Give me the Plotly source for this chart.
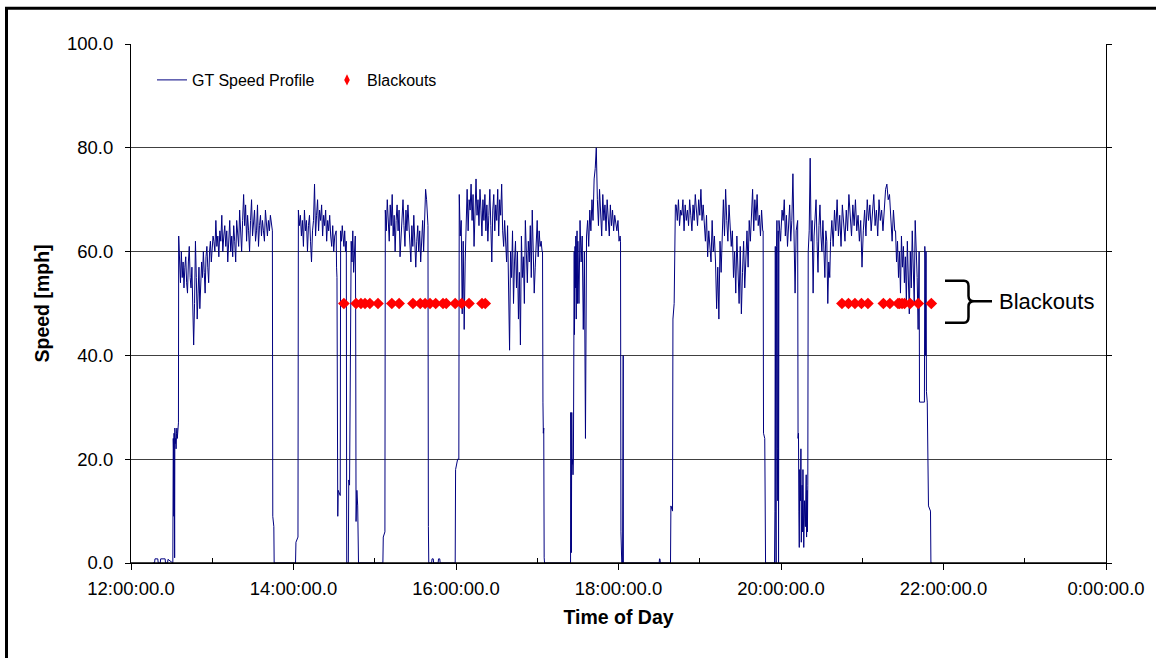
import numpy as np
import plotly.graph_objects as go

# ---------------- data (hours of day, mph) ----------------
p0_t = [12.27, 12.29, 12.295, 12.33, 12.335, 12.36, 12.365, 12.42, 12.425, 12.45, 12.455, 12.515]
p0_v = [0, 0, 0.8, 0.8, 0, 0, 0.8, 0.8, 0, 0, 0.7, 0]
p1_t = [12.52, 12.523, 12.527, 12.53, 12.533, 12.537, 12.54, 12.545, 12.55, 12.555, 12.56, 12.565, 12.57, 12.575, 12.58, 12.584]
p1_v = [24, 22, 9, 25, 21, 1, 26, 23, 24, 22, 25, 26, 24, 25, 26, 27]
seg_b = (12.587, 13.01, [63, 56, 54, 60, 55, 58, 53, 57, 59, 54, 52, 58, 61, 55, 53, 57, 48, 42, 50, 62,
                         55, 47, 52, 57, 49, 53, 58, 55, 60, 56, 52, 59, 61, 57, 54, 60, 62, 58, 60, 63])
seg_c = (13.02, 13.74, [62, 60, 66, 61, 63, 59, 64, 62, 67, 60, 63, 65, 61, 64, 58, 62, 66, 60, 63, 59,
                        65, 62, 58, 66, 63, 61, 68, 64, 60, 66, 71, 65, 69, 62, 67, 64, 60, 66, 70, 63,
                        65, 68, 62, 64, 69, 61, 65, 67, 63, 66, 64, 62, 68, 65, 63, 66, 64, 67, 65, 64])
p2_t = [13.745, 13.752, 13.758, 13.762, 14.025, 14.03, 14.055]
p2_v = [9, 8, 7, 0, 0, 4, 5]
seg_d = (14.06, 14.52, [68, 65, 67, 63, 66, 61, 68, 64, 66, 60, 65, 67, 62, 58, 64, 66, 73, 63, 67, 70,
                        64, 68, 66, 69, 63, 67, 65, 68, 62, 66, 64, 67, 63, 61, 65, 60, 63, 64])
p3_t = [14.525, 14.53, 14.535, 14.545, 14.55, 14.575, 14.58, 14.59, 14.60, 14.61, 14.62, 14.63, 14.64,
        14.65, 14.655, 14.675, 14.68, 14.69, 14.70, 14.71, 14.72, 14.73, 14.74, 14.75, 14.76, 14.765,
        14.77, 14.78, 14.79, 14.80, 15.10, 15.105, 15.125]
p3_v = [64, 57, 55, 9, 14, 13, 64, 62, 65, 63, 61, 64, 60, 62, 0, 0, 16, 15, 56, 62, 58, 64, 56, 62,
        63, 49, 8, 14, 11, 0, 0, 5, 6]
seg_e = (15.13, 15.65, [68, 64, 70, 66, 62, 69, 65, 71, 63, 67, 60, 66, 69, 64, 68, 59, 63, 66, 70, 65,
                        61, 68, 64, 69, 66, 62, 58, 65, 61, 67, 63, 57, 62, 65, 60, 64, 58, 62, 66, 60,
                        68, 72, 70, 66])
p4_t = [15.655, 15.66, 15.665, 15.70, 15.705, 15.72, 15.725, 15.78, 15.785, 15.80, 15.805, 15.99,
        15.995, 16.02, 16.035]
p4_v = [65, 7, 0, 0, 0.8, 0.8, 0, 0, 0.8, 0.8, 0, 0, 18, 20, 20]
seg_f = (16.04, 17.06, [71, 63, 66, 48, 62, 45, 58, 66, 72, 64, 70, 68, 73, 66, 71, 61, 69, 74, 67, 70,
                        65, 72, 68, 63, 70, 66, 71, 64, 69, 62, 67, 72, 65, 58, 68, 71, 64, 69, 66, 72,
                        63, 70, 67, 73, 64, 61, 66, 63, 58, 65, 52, 41, 60, 55, 64, 50, 58, 62, 53, 60,
                        47, 56, 42, 63, 55, 59, 50, 66, 60, 54, 62, 58, 65, 55, 68, 60, 52, 57, 63, 66,
                        59, 64, 61, 62, 60])
p5_t = [17.065, 17.07, 17.075, 17.08, 17.085, 17.09, 17.41, 17.412, 17.415, 17.418, 17.42, 17.425,
        17.43, 17.435, 17.44, 17.445, 17.452, 17.455, 17.458, 17.465, 17.47, 17.475, 17.48, 17.485,
        17.49, 17.495]
p5_v = [60, 31, 25, 26, 1, 0, 0, 29, 8, 20, 2, 29, 19, 20, 17, 20, 52, 60, 44, 61, 53, 63, 47, 60, 64, 50]
seg_g = (17.50, 18.02, [62, 50, 66, 58, 63, 45, 60, 24, 63, 66, 61, 68, 64, 70, 66, 74, 76, 80, 70, 65,
                        72, 68, 63, 71, 66, 69, 64, 70, 67, 63, 69, 65, 68, 64, 67, 65, 64, 66, 62, 63])
p6_t = [18.025, 18.03, 18.035, 18.04, 18.05, 18.055, 18.058, 18.06, 18.50, 18.505, 18.51, 18.515,
        18.64, 18.645, 18.665, 18.67, 18.685, 18.70]
p6_v = [62, 6, 2, 0, 0, 40, 40, 0, 0, 0.8, 0.8, 0, 0, 11, 10, 47, 50, 69]
seg_h = (18.71, 19.775, [69, 66, 70, 65, 68, 67, 70, 64, 69, 66, 68, 65, 70, 67, 64, 69, 66, 71, 68, 65,
                         70, 67, 72, 66, 69, 64, 62, 67, 59, 64, 61, 58, 66, 60, 63, 58, 49, 57, 47, 62,
                         56, 65, 70, 63, 72, 66, 62, 69, 65, 61, 64, 55, 60, 52, 63, 58, 50, 61, 48, 56,
                         62, 53, 59, 64, 57, 66, 62, 69, 72, 64, 70, 66, 71, 65, 67, 63, 68, 64])
p7_t = [19.78, 19.785, 19.80, 19.81, 19.92, 19.925, 19.93, 19.935, 19.94, 19.945, 19.95, 19.955,
        19.96, 19.965, 19.97, 19.975, 19.985, 19.995]
p7_v = [64, 25, 24, 0, 0, 10, 61, 10, 0, 61, 66, 22, 12, 64, 0, 66, 64, 62]
seg_i = (20.00, 20.20, [64, 68, 66, 70, 63, 67, 61, 65, 69, 62, 66, 75, 58, 52, 64, 66])
p8_t = [20.205, 20.21, 20.215, 20.22, 20.225, 20.23, 20.24, 20.245, 20.25, 20.26, 20.265, 20.27,
        20.28, 20.29, 20.30, 20.31, 20.315, 20.32, 20.325, 20.33]
p8_v = [66, 24, 25, 10, 3, 18, 12, 22, 4, 15, 6, 18, 3, 12, 7, 17, 5, 14, 6, 15]
seg_j = (20.335, 20.60, [60, 64, 78, 62, 66, 52, 63, 68, 70, 62, 56, 65, 69, 63, 60, 66, 61, 55, 64, 62,
                         50, 58, 55])
seg_k = (20.61, 21.40, [62, 66, 61, 68, 64, 70, 63, 67, 61, 69, 65, 62, 68, 64, 71, 66, 63, 69, 65, 70,
                        64, 67, 62, 66, 57, 64, 68, 63, 70, 66, 69, 64, 67, 71, 65, 68, 63, 70, 66, 68,
                        64, 69, 72, 73, 70, 71, 66, 62, 68, 64])
seg_l = (21.41, 21.70, [64, 58, 62, 55, 60, 52, 63, 57, 61, 54, 59, 50, 62, 56, 48, 60, 53, 64, 58, 50,
                        66, 61, 55, 45, 60])
p9_t = [21.705, 21.765, 21.77, 21.775, 21.78, 21.785, 21.79, 21.80, 21.815, 21.84, 21.845, 21.86]
p9_v = [31, 31, 61, 58, 40, 60, 33, 31, 11, 10, 0, 0]

blackout_t = [14.62, 14.77, 14.83, 14.88, 14.94, 15.04, 15.21, 15.30, 15.47, 15.56, 15.62, 15.68,
              15.75, 15.84, 15.88, 15.99, 16.07, 16.16, 16.32, 16.36,
              20.75, 20.83, 20.91, 20.99, 21.07, 21.26, 21.34, 21.44, 21.46, 21.49, 21.52, 21.59,
              21.69, 21.85]
blackout_level = 50.0

x_tickvals = [12, 14, 16, 18, 20, 22, 24]
x_ticktext = ["12:00:00.0", "14:00:00.0", "16:00:00.0", "18:00:00.0", "20:00:00.0", "22:00:00.0", "0:00:00.0"]
x_minor_ticks = [13, 15, 17, 19, 21, 23]
y_tickvals = [0, 20, 40, 60, 80, 100]
y_ticktext = ["0.0", "20.0", "40.0", "60.0", "80.0", "100.0"]

# ---------------- assemble ----------------
pieces = [("p", p0_t, p0_v), ("p", p1_t, p1_v), ("s", seg_b), ("s", seg_c), ("p", p2_t, p2_v),
          ("s", seg_d), ("p", p3_t, p3_v), ("s", seg_e), ("p", p4_t, p4_v), ("s", seg_f),
          ("p", p5_t, p5_v), ("s", seg_g), ("p", p6_t, p6_v), ("s", seg_h), ("p", p7_t, p7_v),
          ("s", seg_i), ("p", p8_t, p8_v), ("s", seg_j), ("s", seg_k), ("s", seg_l), ("p", p9_t, p9_v)]
tt, vv = [], []
for pc in pieces:
    if pc[0] == "p":
        tt += list(pc[1]); vv += list(pc[2])
    else:
        t0, t1, vals = pc[1]
        tt += list(np.linspace(t0, t1, len(vals))); vv += list(vals)

FONT = "Arial, 'Liberation Sans', sans-serif"

fig = go.Figure()
fig.add_trace(go.Scatter(x=tt, y=vv, mode="lines", name="GT Speed Profile",
                         line=dict(color="#000080", width=1)))
fig.add_trace(go.Scatter(x=blackout_t, y=[blackout_level] * len(blackout_t), mode="markers",
                         name="Blackouts", showlegend=False,
                         marker=dict(symbol="diamond", size=9, color="#FF0000", line=dict(width=0))))
# legend entry with the smaller symbol used in the original legend
fig.add_trace(go.Scatter(x=[None], y=[None], mode="markers", name="Blackouts",
                         marker=dict(symbol="diamond-tall", size=8, color="#FF0000", line=dict(width=0))))

L, R, T, B = 131, 50, 44, 95
W, H = 1156, 658
pw, ph = W - L - R, H - T - B

def px(xp):
    return (xp - L) / pw

def py(yp):
    return (H - B - yp) / ph

bx0, bx1, bx2, bx3, bx4 = px(945), px(964), px(968.5), px(974), px(992)
by_top, by_t2, by_t3, by_mid, by_b3, by_b2, by_bot = py(280.7), py(286), py(296), py(301.3), py(306.5), py(317), py(322.7)
brace = (f"M {bx0},{by_top} L {bx1},{by_top} Q {bx2},{by_top} {bx2},{by_t2} L {bx2},{by_t3} "
         f"Q {bx2},{by_mid} {bx3},{by_mid} L {bx4},{by_mid} "
         f"M {bx3},{by_mid} Q {bx2},{by_mid} {bx2},{by_b3} L {bx2},{by_b2} "
         f"Q {bx2},{by_bot} {bx1},{by_bot} L {bx0},{by_bot}")

fig.update_layout(
    width=W, height=H,
    margin=dict(l=L, r=R, t=T, b=B, pad=0),
    paper_bgcolor="white", plot_bgcolor="white",
    font=dict(family=FONT, color="black", size=18),
    showlegend=True,
    legend=dict(orientation="h", x=px(152), y=py(80), xanchor="left", yanchor="middle",
                bgcolor="rgba(0,0,0,0)", font=dict(size=16, family=FONT), entrywidth=130,
                itemwidth=30, tracegroupgap=0),
    xaxis=dict(range=[12, 24], tickmode="array", tickvals=x_tickvals, ticktext=x_ticktext,
               showgrid=False, zeroline=False, showline=True, linecolor="black", linewidth=1,
               ticks="outside", ticklen=6, tickcolor="black", tickwidth=1,
               minor=dict(tickvals=x_minor_ticks, ticks="inside", ticklen=5,
                          tickcolor="black", showgrid=False),
               tickfont=dict(size=18.5, family=FONT), ticklabelstandoff=3,
               title=dict(text="<b>Time of Day</b>", font=dict(size=19.5, family=FONT), standoff=12)),
    yaxis=dict(range=[0, 100], tickmode="array", tickvals=y_tickvals, ticktext=y_ticktext,
               showgrid=True, gridcolor="#404040", gridwidth=1, zeroline=False,
               showline=True, linecolor="black", linewidth=1, mirror="ticks",
               ticks="outside", ticklen=5, tickcolor="black",
               tickfont=dict(size=18.5, family=FONT), ticklabelstandoff=8,
               title=dict(text="<b>Speed [mph]</b>", font=dict(size=19.5, family=FONT), standoff=12)),
    shapes=[
        # category axis line drawn over the trace, as in the original
        dict(type="line", xref="paper", yref="y", x0=0, x1=1, y0=0, y1=0, layer="above",
             line=dict(color="black", width=1.6)),
        dict(type="path", xref="paper", yref="paper", path=brace,
             line=dict(color="black", width=2.5)),
        dict(type="line", xref="paper", yref="paper", x0=px(5), x1=px(W), y0=py(8.3), y1=py(8.3),
             line=dict(color="black", width=3)),
        dict(type="line", xref="paper", yref="paper", x0=px(6.5), x1=px(6.5), y0=py(7), y1=py(H),
             line=dict(color="black", width=3)),
    ],
    annotations=[
        dict(text="Blackouts", xref="paper", yref="paper", x=px(997), y=py(301.3),
             xanchor="left", yanchor="middle", showarrow=False,
             font=dict(size=22, family=FONT, color="black")),
    ],
)

fig.write_html("out.html", config={"displayModeBar": False},
               post_script="document.body.style.margin='0';")
